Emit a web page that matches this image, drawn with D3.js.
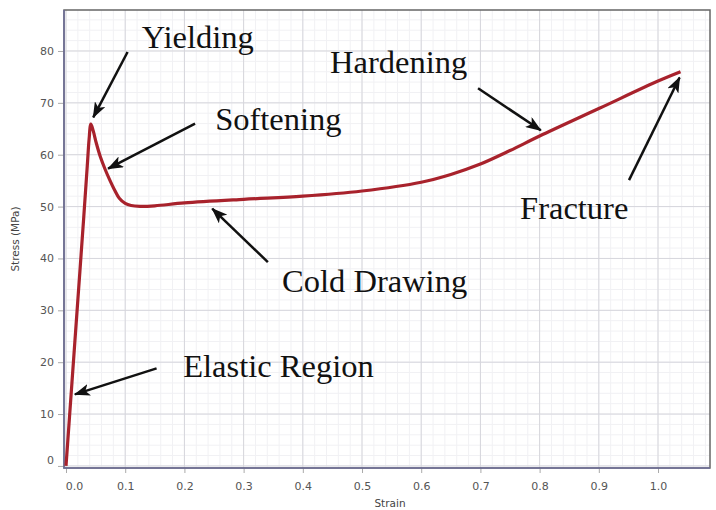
<!DOCTYPE html>
<html>
<head>
<meta charset="utf-8">
<script src="https://cdn.jsdelivr.net/npm/d3@7"></script>
<style>
  body { margin: 0; background: #fff; }
  .tick text { font-family: "DejaVu Sans", sans-serif; font-size: 11px; fill: #555; }
  .note { font-family: "Liberation Serif", "Times New Roman", serif; font-size: 32.5px; fill: #111; }
</style>
</head>
<body>
<div id="chart"></div>
<script>
// stress-strain curve
const strain = [0, 0.01, 0.02, 0.03, 0.036, 0.039, 0.042, 0.046, 0.051, 0.058, 0.066, 0.074, 0.082,
    0.09, 0.1, 0.11, 0.125, 0.15, 0.2, 0.3, 0.4, 0.5, 0.6, 0.65, 0.7, 0.75, 0.8, 0.9, 1.0, 1.038];
const stress = [0, 16, 32, 48, 58, 63, 65.9, 64.6, 62.3, 59.6, 57.2, 55.1, 53.2,
    51.6, 50.6, 50.2, 50.05, 50.15, 50.7, 51.4, 52.0, 53.0, 54.7, 56.2, 58.2, 60.8, 63.6, 68.9, 74.2, 76.0];

const xTicks = [0, 0.1, 0.2, 0.3, 0.4, 0.5, 0.6, 0.7, 0.8, 0.9, 1.0];
const yTicks = [0, 10, 20, 30, 40, 50, 60, 70, 80];

// annotation labels, arrow tails and tips in data units
const noteLabels = ["Yielding", "Softening", "Hardening", "Cold Drawing", "Fracture", "Elastic Region"];
const noteText = [[0.128, 80.6], [0.252, 64.7], [0.446, 75.7], [0.365, 33.5], [0.767, 47.6], [0.198, 17.1]];
const arrowTail = [[0.104, 79.8], [0.218, 66.0], [0.696, 72.8], [0.341, 39.3], [0.951, 55.1], [0.153, 18.8]];
const arrowTip = [[0.046, 67.2], [0.071, 57.3], [0.802, 64.7], [0.247, 49.6], [1.0365, 74.9], [0.015, 13.8]];

const width = 716, height = 510;
const plot = { left: 64, right: 710, top: 10, bottom: 468 };

const svg = d3.select("#chart").append("svg")
    .attr("width", width)
    .attr("height", height);

const x = d3.scaleLinear().domain([-0.0034, 1.0878]).range([plot.left, plot.right]);
const y = d3.scaleLinear().domain([-0.4, 87.9]).range([plot.bottom, plot.top]);

// minor grid
svg.append("g")
    .selectAll("line")
    .data(d3.range(0, 1.09, 0.02))
    .enter().append("line")
    .attr("x1", d => x(d)).attr("x2", d => x(d))
    .attr("y1", plot.top).attr("y2", plot.bottom)
    .attr("stroke", "#f1f1f4").attr("stroke-width", 1);
svg.append("g")
    .selectAll("line")
    .data(d3.range(0, 88, 2))
    .enter().append("line")
    .attr("x1", plot.left).attr("x2", plot.right)
    .attr("y1", d => y(d)).attr("y2", d => y(d))
    .attr("stroke", "#f1f1f4").attr("stroke-width", 1);

// major grid
svg.append("g")
    .selectAll("line")
    .data(xTicks)
    .enter().append("line")
    .attr("x1", d => x(d)).attr("x2", d => x(d))
    .attr("y1", plot.top).attr("y2", plot.bottom)
    .attr("stroke", "#d6d6dc").attr("stroke-width", 1);
svg.append("g")
    .selectAll("line")
    .data(yTicks)
    .enter().append("line")
    .attr("x1", plot.left).attr("x2", plot.right)
    .attr("y1", d => y(d)).attr("y2", d => y(d))
    .attr("stroke", "#d6d6dc").attr("stroke-width", 1);

// axes
const xAxis = svg.append("g")
    .attr("transform", `translate(0,${plot.bottom})`)
    .call(d3.axisBottom(x).tickValues(xTicks).tickFormat(d3.format(".1f")).tickSize(5).tickPadding(9));
const yAxis = svg.append("g")
    .attr("transform", `translate(${plot.left},0)`)
    .call(d3.axisLeft(y).tickValues(yTicks).tickSize(6).tickPadding(4));
[xAxis, yAxis].forEach(g => {
    g.select(".domain").remove();
    g.selectAll(".tick line").attr("stroke", "#aaa");
});
xAxis.selectAll(".tick text").filter(d => d === 0).attr("dx", 8);
yAxis.selectAll(".tick text").filter(d => d === 0).attr("dy", "-0.2em");

// frame
svg.append("rect")
    .attr("x", plot.left).attr("y", plot.top)
    .attr("width", plot.right - plot.left).attr("height", plot.bottom - plot.top)
    .attr("fill", "none").attr("stroke", "#666").attr("stroke-width", 1.5);
svg.append("path")
    .attr("d", `M${plot.left},${plot.top}V${plot.bottom}H${plot.right}`)
    .attr("fill", "none").attr("stroke", "#6f6f9a").attr("stroke-width", 1.5);

// axis titles
svg.append("text")
    .attr("x", (plot.left + plot.right) / 2 + 3).attr("y", 507)
    .attr("text-anchor", "middle")
    .style("font-family", "DejaVu Sans, sans-serif").style("font-size", "10.5px").style("fill", "#444")
    .text("Strain");
svg.append("text")
    .attr("transform", `translate(19,${(plot.top + plot.bottom) / 2}) rotate(-90)`)
    .attr("text-anchor", "middle")
    .style("font-family", "DejaVu Sans, sans-serif").style("font-size", "10.5px").style("fill", "#444")
    .text("Stress (MPa)");

// curve
const points = strain.map((s, i) => [s, stress[i]]);
const line = d3.line()
    .x(d => x(d[0]))
    .y(d => y(d[1]))
    .curve(d3.curveCatmullRom.alpha(0.5));
svg.append("path")
    .datum(points)
    .attr("d", line)
    .attr("fill", "none")
    .attr("stroke", "#a8222c")
    .attr("stroke-width", 3.2)
    .attr("stroke-linejoin", "round");

// arrowhead
svg.append("defs").append("marker")
    .attr("id", "head")
    .attr("markerUnits", "userSpaceOnUse")
    .attr("viewBox", "0 0 16 12")
    .attr("refX", 15).attr("refY", 6)
    .attr("markerWidth", 16).attr("markerHeight", 12)
    .attr("orient", "auto")
    .append("path")
    .attr("d", "M0,0 L16,6 L0,12 L4,6 Z")
    .attr("fill", "#111");

// annotations
const notes = noteLabels.map((label, i) => ({
    label, text: noteText[i], tail: arrowTail[i], tip: arrowTip[i]
}));
svg.append("g")
    .selectAll("line")
    .data(notes)
    .enter().append("line")
    .attr("x1", d => x(d.tail[0])).attr("y1", d => y(d.tail[1]))
    .attr("x2", d => x(d.tip[0])).attr("y2", d => y(d.tip[1]))
    .attr("stroke", "#111").attr("stroke-width", 2.5)
    .attr("marker-end", "url(#head)");
svg.append("g")
    .selectAll("text")
    .data(notes)
    .enter().append("text")
    .attr("class", "note")
    .attr("x", d => x(d.text[0]))
    .attr("y", d => y(d.text[1]))
    .text(d => d.label);
</script>
</body>
</html>
